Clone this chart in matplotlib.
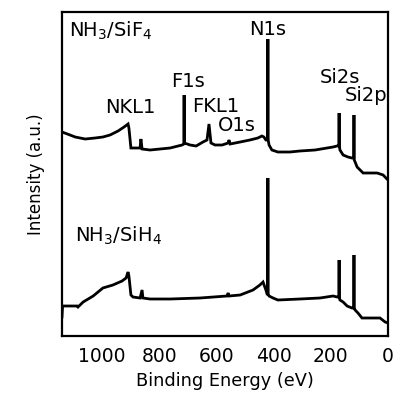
import matplotlib
matplotlib.use("Agg")
import matplotlib.pyplot as plt

plt.rcParams['font.family'] = ['DejaVu Sans']
plt.rcParams['mathtext.default'] = 'regular'

# Top spectrum: NH3/SiF4 (binding energy eV, intensity a.u.)
sif4_energy = [1140, 1112, 1094, 1059, 1024, 997, 972, 944, 923, 909, 906, 899, 881, 867, 864, 860,
               832, 797, 762, 734, 720, 714, 713, 712, 692, 671, 647, 633, 626, 619, 605, 580, 559, 556,
               552, 517, 483, 455, 441, 434, 427, 421, 420, 419, 416, 406, 385, 343, 308, 255, 192,
               178, 172, 171, 170, 168, 157, 140, 126, 120, 119, 118, 115, 108, 87, 63, 38, 17, 7, 0]
sif4_intensity = [204, 201, 199, 197, 198, 199, 201, 205, 209, 212, 208, 188, 188, 188, 197, 187,
                  186, 187, 188, 190, 191, 192, 241, 193, 191, 190, 194, 196, 212, 193, 191, 191, 193, 196,
                  192, 194, 196, 198, 200, 199, 196, 196, 297, 196, 191, 186, 184, 184, 185, 186, 189,
                  190, 190, 223, 190, 186, 181, 179, 178, 178, 221, 176, 174, 169, 163, 163, 163, 161, 158, 156]

# Bottom spectrum: NH3/SiH4
sih4_energy = [1140, 1138, 1122, 1087, 1084, 1066, 1031, 997, 962, 930, 916, 909, 906, 899, 892, 867,
               860, 857, 832, 762, 657, 563, 559, 556, 517, 472, 448, 437, 427, 423, 421, 420, 419,
               416, 402, 385, 308, 238, 192, 178, 172, 171, 170, 168, 157, 143, 126, 120, 119, 118,
               115, 105, 91, 63, 28, 10, 0]
sih4_intensity = [19, 30, 30, 30, 29, 34, 40, 48, 51, 55, 58, 64, 60, 41, 39, 38,
                  46, 38, 37, 37, 38, 40, 43, 40, 41, 46, 51, 54, 46, 42, 42, 158, 42,
                  40, 38, 36, 37, 38, 40, 39, 39, 76, 38, 36, 34, 30, 28, 28, 81, 28,
                  26, 23, 18, 18, 18, 14, 13]

x_ticks = [1000, 800, 600, 400, 200, 0]

peak_labels = ["N1s", "F1s", "NKL1", "FKL1", "O1s", "Si2s", "Si2p"]
peak_label_energy = [420, 699, 902, 601, 528, 168, 77]
peak_label_height = [301, 249, 223, 224, 205, 253, 235]

fig = plt.figure(figsize=(3.96, 3.99), dpi=100)
ax = fig.add_axes([62/396, 63/399, 326/396, 324/399])

ax.plot(sif4_energy, sif4_intensity, color='black', lw=2.0, solid_joinstyle='miter')
ax.plot(sih4_energy, sih4_intensity, color='black', lw=2.0, solid_joinstyle='miter')

ax.set_xlim(1140, 0)
ax.set_ylim(0, 324)
ax.set_xticks(x_ticks)
ax.set_xticklabels([str(t) for t in x_ticks], fontsize=13.5)
ax.set_yticks([])
ax.tick_params(axis='x', length=0, pad=8)
for s in ax.spines.values():
    s.set_linewidth(1.6)

ax.set_xlabel("Binding Energy (eV)", fontsize=12.8, labelpad=4)
ax.set_ylabel("Intensity (a.u.)", fontsize=12, labelpad=12)

for lab, e, h in zip(peak_labels, peak_label_energy, peak_label_height):
    ax.text(e, h, lab, ha='center', va='baseline', fontsize=14)

ax.text(1115, 299, "NH$_3$/SiF$_4$", ha='left', va='baseline', fontsize=14)
ax.text(1094, 94, "NH$_3$/SiH$_4$", ha='left', va='baseline', fontsize=14)

fig.savefig("out.png", dpi=100)
